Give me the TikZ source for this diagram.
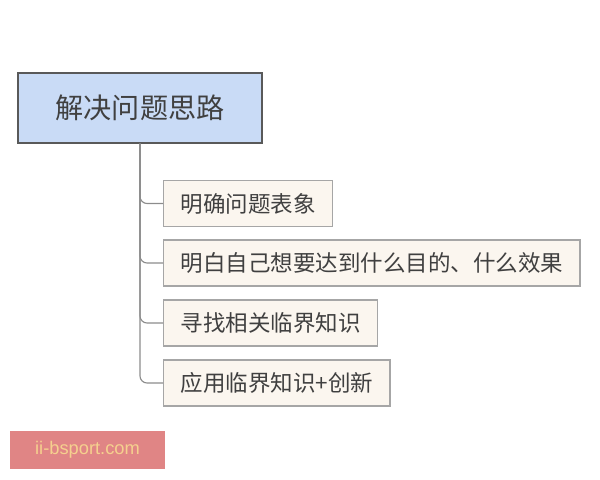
\documentclass[tikz,border=0pt]{standalone}
\usepackage{fontspec}
\newfontfamily\cjk{Noto Sans CJK SC}
\setsansfont{Liberation Sans}
\definecolor{rootblue}{HTML}{C9DBF6}
\definecolor{leafbeige}{HTML}{FBF6EF}
\definecolor{markred}{HTML}{E08585}
\definecolor{markgold}{HTML}{F5D08E}
\tikzset{
 rootbox/.style={draw=black!65,fill=rootblue,line width=1pt,minimum width=244*0.025cm,minimum height=70*0.025cm,text=black!75,font=\cjk\fontsize{20pt}{24pt}\selectfont},
 leafbox/.style={draw=black!35,fill=leafbeige,line width=0.8pt,anchor=west,minimum height=46*0.025cm,inner xsep=17*0.025cm,text=black!75,font=\cjk\fontsize{16pt}{19pt}\selectfont},
 branch/.style={draw=black!45,line width=0.8pt,rounded corners=5pt}
}
\begin{document}
\begin{tikzpicture}[x=0.025cm,y=-0.025cm]
 \useasboundingbox (0,0) rectangle (600,480);
 \node[rootbox] (root) at (140,108) {解决问题思路};
 \node[leafbox] (b1) at (163,203.5) {明确问题表象};
 \node[leafbox] (b2) at (163,263) {明白自己想要达到什么目的、什么效果};
 \node[leafbox] (b3) at (163,323) {寻找相关临界知识};
 \node[leafbox] (b4) at (163,383) {应用临界知识+创新};
 \foreach \b in {b1,b2,b3,b4}
  \draw[branch] (root.south) |- (\b.west);
 \node[fill=markred,minimum width=155*0.025cm,minimum height=38*0.025cm,text=markgold,font=\sffamily\fontsize{13pt}{15pt}\selectfont] (mark) at (87.5,450) {ii-bsport.com};
\end{tikzpicture}
\end{document}
